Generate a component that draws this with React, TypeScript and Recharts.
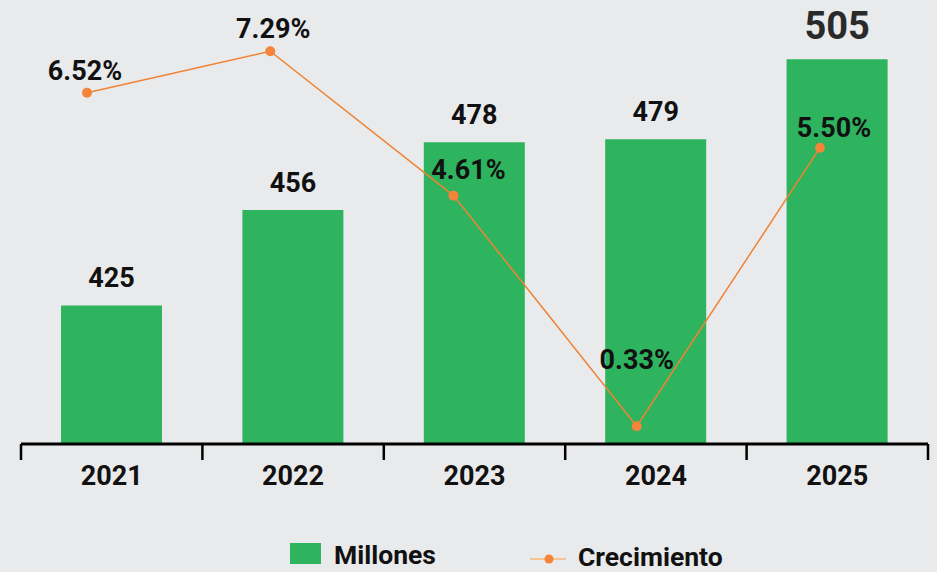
import React from 'react';
import { ComposedChart, Bar, Line, XAxis, YAxis, LabelList, Legend } from 'recharts';

const years = ['2021', '2022', '2023', '2024', '2025'];
const millones = [425, 456, 478, 479, 505];
const crecimiento = [6.52, 7.29, 4.61, 0.33, 5.5];

const data = years.map((year, i) => ({ year, millones: millones[i], crecimiento: crecimiento[i] }));

const W = 937;
const H = 572;
const MARGIN = { top: 13, right: 9, bottom: 4, left: 21 };
const PLOT_W = W - MARGIN.left - MARGIN.right;
const GREEN = '#2eb35f';
const ORANGE = '#ef8333';
const FONT = 'Roboto, "Liberation Sans", sans-serif';

// label placement tweaks for the growth labels (style only)
const pctLabelShift = [
  { dx: -2, dy: -13 },
  { dx: 3, dy: -13 },
  { dx: 15, dy: -17 },
  { dx: 0, dy: -57 },
  { dx: 14, dy: -11 },
];

const XTick = (props: any) => {
  const { x, y, payload, index } = props;
  const band = PLOT_W / years.length;
  const left = x - band / 2;
  const right = x + band / 2;
  return (
    <g>
      <line x1={left} x2={left} y1={y} y2={y + 16} stroke="#000" strokeWidth={2.5} />
      {index === years.length - 1 && (
        <line x1={right} x2={right} y1={y} y2={y + 16} stroke="#000" strokeWidth={2.5} />
      )}
      <text x={x} y={y + 41} textAnchor="middle" fontFamily={FONT} fontWeight={700} fontSize={27} fill="#111">
        {payload.value}
      </text>
    </g>
  );
};

const BarLabel = (props: any) => {
  const { x, y, width, value, index } = props;
  const big = index === millones.length - 1;
  return (
    <text
      x={x + width / 2}
      y={y - (big ? 20 : 18)}
      textAnchor="middle"
      fontFamily={FONT}
      fontWeight={700}
      fontSize={big ? 38 : 27}
      fill={big ? '#2a2a2a' : '#111'}
    >
      {value}
    </text>
  );
};

const PctLabel = (props: any) => {
  const { x, y, value, index } = props;
  const s = pctLabelShift[index] || { dx: 0, dy: -13 };
  return (
    <text
      x={x + s.dx}
      y={y + s.dy}
      textAnchor="middle"
      fontFamily={FONT}
      fontWeight={700}
      fontSize={27}
      fill="#111"
    >
      {Number(value).toFixed(2)}%
    </text>
  );
};

const LegendContent = () => (
  <div
    style={{
      position: 'relative',
      width: W,
      height: 44,
      fontFamily: FONT,
      fontWeight: 700,
      fontSize: 26.5,
      color: '#111',
      whiteSpace: 'nowrap',
    }}
  >
    <div style={{ position: 'absolute', left: 290, top: 19, width: 31, height: 21, background: GREEN }} />
    <span style={{ position: 'absolute', left: 334, top: 18, lineHeight: '26px' }}>Millones</span>
    <svg style={{ position: 'absolute', left: 528, top: 28 }} width={40} height={14}>
      <line x1={2} x2={38} y1={7} y2={7} stroke="#f6c496" strokeWidth={2} />
      <circle cx={21} cy={7} r={4.5} fill="#f5843a" />
    </svg>
    <span style={{ position: 'absolute', left: 578, top: 20, lineHeight: '26px' }}>Crecimiento</span>
  </div>
);

export default function App() {
  return (
    <div style={{ position: 'absolute', left: 0, top: 0, width: W, height: H, background: '#e9eaec' }}>
      <ComposedChart width={W} height={H} data={data} margin={MARGIN}>
        <XAxis
          dataKey="year"
          height={80}
          axisLine={{ stroke: '#000', strokeWidth: 3 }}
          tickLine={false}
          tickSize={0}
          tickMargin={0}
          tick={<XTick />}
          interval={0}
        />
        <XAxis xAxisId="line" dataKey="year" scale="point" padding={{ left: 66, right: 108 }} hide />
        <YAxis yAxisId="left" domain={[380, 520]} hide />
        <YAxis yAxisId="right" orientation="right" domain={[0, 8]} hide />
        <Legend
          verticalAlign="bottom"
          content={<LegendContent />}
          wrapperStyle={{ left: 0, top: 524, width: W, height: 44 }}
        />
        <Bar dataKey="millones" name="Millones" yAxisId="left" fill={GREEN} barSize={101} isAnimationActive={false}>
          <LabelList dataKey="millones" content={<BarLabel />} />
        </Bar>
        <Line
          dataKey="crecimiento"
          name="Crecimiento"
          xAxisId="line"
          yAxisId="right"
          stroke={ORANGE}
          strokeWidth={1.5}
          dot={{ r: 5, fill: '#f5843a', stroke: 'none' }}
          activeDot={false}
          isAnimationActive={false}
        >
          <LabelList dataKey="crecimiento" content={<PctLabel />} />
        </Line>
      </ComposedChart>
    </div>
  );
}
